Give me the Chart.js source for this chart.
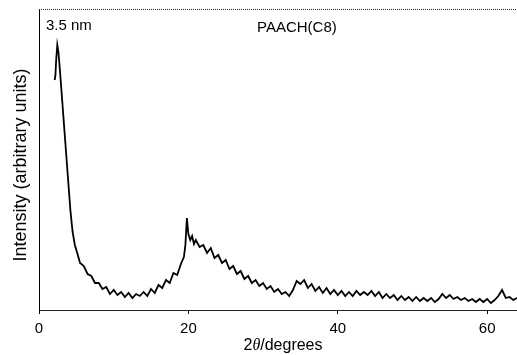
<!DOCTYPE html>
<html>
<head>
<meta charset="utf-8">
<script src="https://cdn.jsdelivr.net/npm/chart.js@4/dist/chart.umd.min.js"></script>
<style>
  html, body { margin: 0; padding: 0; background: #fff; }
</style>
</head>
<body>
<canvas id="xrd" width="517" height="355"></canvas>
<script>
// 2theta (degrees) and intensity (arbitrary units)
const twoTheta = [
  2.1, 2.2, 2.3, 2.45, 2.6, 2.8, 3.0, 3.3, 3.6, 3.9, 4.2, 4.5, 4.8,
  5.0, 5.5, 6.0, 6.5, 7.0, 7.5, 8.0, 8.5, 9.0, 9.5, 10.0, 10.5, 11.0, 11.5,
  12.0, 12.5, 13.0, 13.5, 14.0, 14.5, 15.0, 15.5, 16.0, 16.5, 17.0, 17.5,
  18.0, 18.5, 19.0, 19.4, 19.6, 19.8, 20.0, 20.25, 20.5, 20.75, 21.0, 21.5,
  22.0, 22.5, 23.0, 23.5, 24.0, 24.5, 25.0, 25.5, 26.0, 26.5, 27.0, 27.5,
  28.0, 28.5, 29.0, 29.5, 30.0, 30.5, 31.0, 31.5, 32.0, 32.5, 33.0, 33.5,
  34.0, 34.5, 35.0, 35.5, 36.0, 36.5, 37.0, 37.5, 38.0, 38.5, 39.0, 39.5,
  40.0, 40.5, 41.0, 41.5, 42.0, 42.5, 43.0, 43.5, 44.0, 44.5, 45.0, 45.5,
  46.0, 46.5, 47.0, 47.5, 48.0, 48.5, 49.0, 49.5, 50.0, 50.5, 51.0, 51.5,
  52.0, 52.5, 53.0, 53.5, 54.0, 54.5, 55.0, 55.5, 56.0, 56.5, 57.0, 57.5,
  58.0, 58.5, 59.0, 59.5, 60.0, 60.5, 61.0, 61.5, 62.0, 62.5, 63.0, 63.5, 64.0
]
const intensity = [
  230, 235, 250, 265, 258, 240, 220, 190, 160, 130, 100, 78, 65,
  60, 47, 44, 36, 34, 27, 27, 21, 23, 16, 20, 15, 18, 13,
  17, 12, 16, 14, 18, 14, 21, 17, 25, 22, 30, 27,
  37, 35, 46, 53, 65, 92, 76, 70, 74, 66, 70, 63,
  65, 57, 62, 52, 55, 47, 50, 41, 44, 36, 39, 31,
  34, 27, 30, 24, 27, 21, 24, 18, 21, 16, 18, 14,
  20, 29, 26, 30, 22, 26, 19, 23, 17, 22, 16, 20,
  15, 19, 14, 18, 14, 19, 15, 18, 15, 19, 14, 18,
  12, 16, 12, 15, 10, 14, 10, 13, 9, 13, 9, 12,
  9, 12, 8, 11, 16, 12, 15, 11, 13, 10, 12, 9,
  11, 8, 11, 8, 11, 7, 10, 14, 20, 12, 13, 10, 12
]
const xTicks = [0, 20, 40, 60]

const points = twoTheta.map((t, i) => ({ x: t, y: intensity[i] }))

// extra bits: dotted top frame, labels, axis titles
const decorations = {
  id: 'decorations',
  afterDraw(chart) {
    const { ctx, chartArea: a } = chart
    ctx.save()
    ctx.strokeStyle = '#222'
    ctx.lineWidth = 1
    ctx.setLineDash([1, 1])
    ctx.beginPath()
    ctx.moveTo(a.left, a.top + 0.5)
    ctx.lineTo(a.right, a.top + 0.5)
    ctx.stroke()
    ctx.setLineDash([])

    ctx.fillStyle = '#000'
    ctx.textBaseline = 'middle'
    ctx.font = '15px "Liberation Sans"'
    ctx.fillText('3.5 nm', a.left + 7, a.top + 17)
    ctx.fillText('PAACH(C8)', a.left + 218, a.top + 19)

    // x title with italic theta
    ctx.font = '16px "Liberation Sans"'
    const p1 = '2', p3 = '/degrees'
    const w1 = ctx.measureText(p1).width
    const w3 = ctx.measureText(p3).width
    ctx.font = 'italic 16px "Liberation Serif"'
    const w2 = ctx.measureText('θ').width
    let x = 283 - (w1 + w2 + w3) / 2
    const y = 346
    ctx.font = '16px "Liberation Sans"'
    ctx.fillText(p1, x, y); x += w1
    ctx.font = 'italic 16px "Liberation Serif"'
    ctx.fillText('θ', x, y); x += w2
    ctx.font = '16px "Liberation Sans"'
    ctx.fillText(p3, x, y)

    // y title
    ctx.font = '18px "Liberation Sans"'
    ctx.translate(21, 165)
    ctx.rotate(-Math.PI / 2)
    ctx.textAlign = 'center'
    ctx.fillText('Intensity (arbitrary units)', 0, 0)
    ctx.restore()
  }
}

new Chart(document.getElementById('xrd'), {
  type: 'line',
  data: {
    datasets: [{
      data: points,
      borderColor: '#000',
      borderWidth: 1.8,
      pointRadius: 0,
      tension: 0
    }]
  },
  options: {
    responsive: false,
    animation: false,
    layout: { padding: { top: 9, right: 0, left: 0, bottom: 0 } },
    plugins: { legend: { display: false }, tooltip: { enabled: false } },
    scales: {
      x: {
        type: 'linear',
        min: 0,
        max: 64,
        afterBuildTicks: scale => { scale.ticks = xTicks.map(v => ({ value: v })) },
        afterFit: scale => { scale.height = 45 },
        grid: { drawOnChartArea: false, drawTicks: true, tickLength: 4, color: '#000' },
        border: { color: '#222', width: 1, dash: [1, 1] },
        ticks: { color: '#000', padding: 6, maxRotation: 0, font: { family: 'Liberation Sans', size: 15 } }
      },
      y: {
        min: 0,
        max: 301,
        afterFit: scale => { scale.width = 39 },
        grid: { display: false },
        border: { display: true, color: '#000', width: 1 },
        ticks: { display: false }
      }
    }
  },
  plugins: [decorations]
})
</script>
</body>
</html>
